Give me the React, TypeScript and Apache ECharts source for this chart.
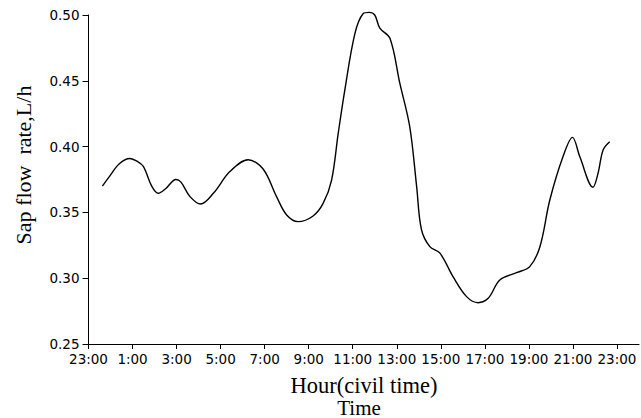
import React, { useEffect, useRef } from "react";
import * as echarts from "echarts";

// hours elapsed since 23:00 of the previous day
const hours = [
  0.63, 0.98, 1.4, 1.88, 2.2, 2.49, 2.87, 3.17, 3.5, 3.97, 4.2, 4.61, 5.09, 5.67,
  6.42, 7.25, 7.93, 8.54, 9.0, 9.52, 10.2, 10.66, 11.04, 11.34, 11.64, 12.1,
  12.47, 12.75, 13.0, 13.23, 13.69, 14.14, 14.59, 14.9, 15.12, 15.5, 15.96,
  16.56, 17.17, 17.69, 18.15, 18.68, 19.44, 20.04, 20.5, 20.95, 21.55, 21.98,
  22.31, 22.91, 23.14, 23.37, 23.67,
];
const sapFlow = [
  0.37, 0.378, 0.387, 0.391, 0.389, 0.385, 0.37, 0.3645, 0.368, 0.375, 0.373,
  0.362, 0.3564, 0.3645, 0.381, 0.39, 0.383, 0.362, 0.348, 0.343, 0.3473, 0.357,
  0.3746, 0.41, 0.443, 0.486, 0.501, 0.502, 0.5, 0.49, 0.4823, 0.448, 0.415,
  0.37, 0.337, 0.324, 0.319, 0.301, 0.286, 0.2814, 0.2847, 0.2986, 0.3042,
  0.3088, 0.3239, 0.3594, 0.3924, 0.407, 0.3924, 0.3691, 0.3797, 0.3974, 0.4037,
];
const xTickHours = [0, 2, 4, 6, 8, 10, 12, 14, 16, 18, 20, 22, 24];

const yTitle = "Sap flow  rate,L/h";
const xTitle = "Hour(civil time)";
const xSubTitle = "Time";

export default function App() {
  const ref = useRef<HTMLDivElement>(null);
  useEffect(() => {
    if (!ref.current) return;
    const chart = echarts.init(ref.current, undefined, { renderer: "svg" });
    const labelFont = { fontFamily: "DejaVu Sans", fontSize: 13.5, color: "#000" };
    chart.setOption({
      animation: false,
      backgroundColor: "#fff",
      grid: { left: 88.5, right: 2, top: 15, bottom: 74, containLabel: false },
      xAxis: {
        type: "value",
        min: 0,
        max: 25,
        interval: 2,
        splitLine: { show: false },
        axisLine: { show: true, lineStyle: { color: "#000", width: 1 } },
        axisTick: {
          show: true,
          length: 5,
          lineStyle: { color: "#000" },
          customValues: xTickHours,
        },
        axisLabel: {
          ...labelFont,
          margin: 8,
          customValues: xTickHours,
          formatter: (v: number) =>
            xTickHours.includes(v) ? `${(23 + v) % 24}:00` : "",
        },
      },
      yAxis: {
        type: "value",
        min: 0.25,
        max: 0.5,
        interval: 0.05,
        splitLine: { show: false },
        axisLine: { show: true, lineStyle: { color: "#000", width: 1 } },
        axisTick: { show: true, length: 6, lineStyle: { color: "#000" } },
        axisLabel: {
          ...labelFont,
          margin: 9,
          formatter: (v: number) => v.toFixed(2),
        },
      },
      series: [
        {
          type: "line",
          data: hours.map((h, i) => [h, sapFlow[i]]),
          smooth: 0.35,
          clip: false,
          showSymbol: false,
          lineStyle: { color: "#000", width: 1.4 },
        },
      ],
      graphic: [
        {
          type: "text",
          x: 23,
          y: 165,
          rotation: Math.PI / 2,
          style: {
            text: yTitle,
            font: '22px "Liberation Serif"',
            fill: "#000",
            align: "center",
            verticalAlign: "middle",
          },
        },
        {
          type: "text",
          x: 364,
          y: 385,
          style: {
            text: xTitle,
            font: '22.5px "Liberation Serif"',
            fill: "#000",
            align: "center",
            verticalAlign: "middle",
          },
        },
        {
          type: "text",
          x: 359,
          y: 407.5,
          style: {
            text: xSubTitle,
            font: '21px "Liberation Serif"',
            fill: "#000",
            align: "center",
            verticalAlign: "middle",
          },
        },
      ],
    });
    return () => chart.dispose();
  }, []);
  return (
    <div
      ref={ref}
      style={{ position: "fixed", left: 0, top: 0, width: 641, height: 418 }}
    />
  );
}
